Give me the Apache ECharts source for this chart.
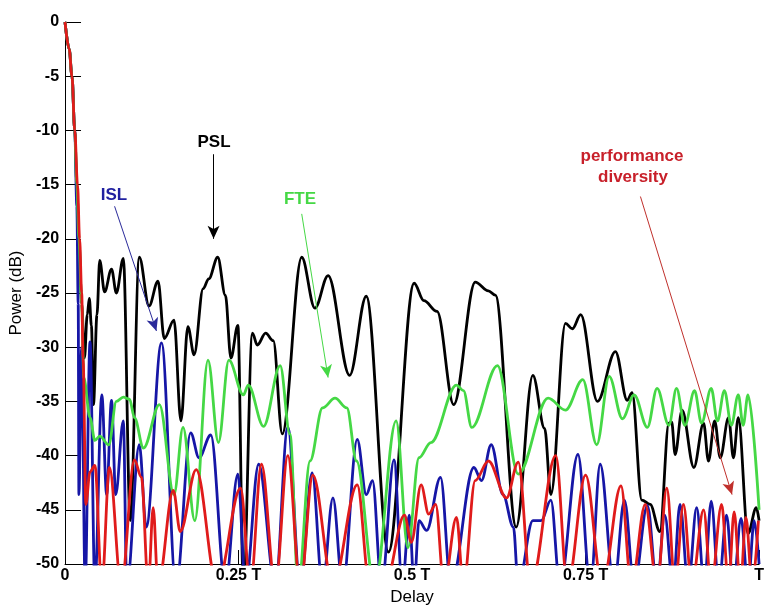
<!DOCTYPE html>
<html>
<head>
<meta charset="utf-8">
<script src="https://cdn.jsdelivr.net/npm/echarts@6/dist/echarts.min.js"></script>
<style>
  html, body { margin: 0; padding: 0; background: #fff; }
  #PowerDelayChart { width: 767px; height: 611px; }
</style>
</head>
<body>
<div id="PowerDelayChart"></div>
<script>
// delay in units of T, power in dB
const xTicks = [0, 0.25, 0.5, 0.75, 1];
const xTickLabels = ['0', '0.25 T', '0.5 T', '0.75 T', 'T'];

const pslData = [
  [0, 0], [0.006, -2.5], [0.010, -5], [0.014, -10], [0.017, -15], [0.020, -20], [0.024, -26], [0.028, -31],
  [0.032, -27], [0.035, -25.5], [0.038, -28], [0.041, -35.3], [0.046, -27], [0.050, -22], [0.057, -24.9],
  [0.067, -22.8], [0.074, -25], [0.084, -21.8], [0.094, -46], [0.107, -21.7], [0.121, -26.2], [0.134, -23.9],
  [0.143, -29.2], [0.157, -27.5], [0.167, -36.8], [0.177, -28.1], [0.186, -30.7], [0.199, -24.6], [0.207, -23.7],
  [0.220, -21.7], [0.231, -25.2], [0.239, -31], [0.249, -28], [0.257, -52], [0.270, -28.7], [0.277, -29.8],
  [0.289, -28.7], [0.300, -29.4], [0.313, -38], [0.341, -21.7], [0.360, -26.4], [0.379, -23.4], [0.410, -32.6],
  [0.434, -25.3], [0.466, -48.9], [0.503, -24.1], [0.517, -25.7], [0.536, -26.7], [0.560, -35.3], [0.591, -24],
  [0.610, -24.8], [0.620, -25.2], [0.650, -46.6], [0.674, -32.6], [0.691, -37.5], [0.700, -43.6], [0.721, -27.8],
  [0.731, -28.3], [0.743, -27], [0.767, -35], [0.793, -30.4], [0.810, -34.9], [0.817, -34.2], [0.831, -44.1],
  [0.843, -44.5], [0.857, -47], [0.870, -37], [0.874, -36.9], [0.879, -39.9], [0.889, -35.8], [0.906, -41.1],
  [0.920, -37], [0.927, -40.5], [0.936, -36.8], [0.944, -40.2], [0.956, -36.5], [0.963, -40.2], [0.970, -36.5],
  [0.984, -47.2], [0.996, -44.8], [1, -46]
];

const islData = [
  [0, 0], [0.006, -2.5], [0.010, -5], [0.014, -10], [0.017, -17], [0.019, -26], [0.020, -43.6], [0.024, -30],
  [0.029, -52], [0.036, -29.5], [0.043, -52], [0.053, -34.4], [0.060, -43.6], [0.067, -34.9], [0.073, -43.6],
  [0.084, -36.8], [0.089, -52], [0.107, -39], [0.117, -46.6], [0.139, -29.6], [0.160, -52], [0.181, -37.9],
  [0.193, -40.2], [0.210, -38.1], [0.231, -52], [0.249, -41.7], [0.260, -52], [0.279, -40.8], [0.303, -52],
  [0.321, -37.4], [0.339, -52], [0.356, -41.6], [0.371, -52], [0.386, -43.9], [0.400, -52], [0.421, -38.5],
  [0.434, -43.6], [0.443, -42.3], [0.456, -52], [0.474, -40.4], [0.486, -52], [0.496, -45.5], [0.503, -52],
  [0.510, -46], [0.521, -46.9], [0.541, -42], [0.556, -52], [0.589, -41.1], [0.600, -42.3], [0.614, -39],
  [0.631, -43.6], [0.646, -46.6], [0.653, -52], [0.674, -46], [0.686, -46], [0.700, -44.1], [0.713, -52],
  [0.739, -39.9], [0.757, -52], [0.771, -40.8], [0.791, -52], [0.806, -44.1], [0.820, -52], [0.839, -44.6],
  [0.853, -52], [0.864, -45.5], [0.876, -52], [0.886, -44.5], [0.898, -52], [0.910, -44.8], [0.921, -52],
  [0.931, -44.2], [0.942, -52], [0.953, -45.5], [0.963, -52], [0.974, -45.8], [0.984, -52], [0.993, -46], [1, -50]
];

const fteData = [
  [0, 0], [0.006, -2.5], [0.010, -5], [0.014, -10], [0.017, -15], [0.020, -20], [0.024, -26], [0.027, -32.8],
  [0.036, -36.5], [0.043, -38.6], [0.050, -38.2], [0.063, -39], [0.074, -35], [0.084, -34.6], [0.093, -34.8],
  [0.100, -36.5], [0.113, -39.3], [0.136, -35.3], [0.157, -43.6], [0.170, -37.4], [0.187, -46], [0.206, -31.2],
  [0.221, -38.8], [0.236, -31.2], [0.257, -34.4], [0.264, -33.5], [0.286, -37.3], [0.310, -31.7], [0.324, -38],
  [0.336, -52], [0.353, -40.5], [0.371, -35.6], [0.389, -34.7], [0.406, -35.6], [0.420, -40.5], [0.446, -52],
  [0.477, -36.8], [0.494, -48.5], [0.510, -40.2], [0.527, -38.8], [0.564, -33.5], [0.574, -34], [0.586, -37.4],
  [0.623, -31.7], [0.653, -41.7], [0.696, -34.7], [0.721, -35.8], [0.746, -33], [0.766, -39], [0.784, -32.7],
  [0.803, -36.6], [0.820, -34.4], [0.839, -37.4], [0.853, -33.8], [0.870, -37.2], [0.881, -33.8], [0.893, -37.2],
  [0.907, -34], [0.917, -37], [0.931, -33.8], [0.940, -36.8], [0.950, -34], [0.960, -37.2], [0.970, -34.4],
  [0.977, -37.2], [0.984, -34.4], [1, -45]
];

const pdData = [
  [0, 0], [0.006, -2.5], [0.010, -5], [0.014, -10], [0.018, -15], [0.021, -20], [0.024, -25], [0.026, -31],
  [0.030, -44.5], [0.036, -41.5], [0.043, -40.9], [0.053, -52], [0.064, -41.1], [0.081, -52], [0.100, -40.4],
  [0.110, -42], [0.120, -52], [0.127, -44.8], [0.134, -52], [0.156, -43.2], [0.166, -47], [0.189, -41.3],
  [0.219, -52], [0.253, -43], [0.267, -52], [0.283, -40.8], [0.303, -52], [0.321, -40], [0.339, -52],
  [0.357, -41.8], [0.386, -52], [0.421, -42.7], [0.439, -52], [0.461, -52], [0.489, -45.5], [0.499, -48],
  [0.513, -42.7], [0.524, -45.4], [0.534, -44.5], [0.546, -52], [0.564, -45.7], [0.574, -52], [0.591, -42.3],
  [0.610, -40.5], [0.636, -43.9], [0.653, -40.6], [0.671, -52], [0.707, -40], [0.724, -52], [0.750, -41.8],
  [0.774, -52], [0.801, -42.8], [0.816, -52], [0.836, -44.5], [0.853, -52], [0.867, -43], [0.879, -52],
  [0.891, -44.5], [0.903, -52], [0.920, -45], [0.931, -52], [0.946, -44.5], [0.956, -52], [0.964, -45.2],
  [0.973, -52], [0.981, -45.7], [0.990, -52], [0.999, -46]
];

let chartDom = document.getElementById('PowerDelayChart');
let myChart = echarts.init(chartDom, null, { renderer: 'canvas' });
let option;

const FONT = '"Liberation Sans", Arial, sans-serif';

function arrow(color, from, to) {
  return {
    silent: true,
    animation: false,
    symbol: ['none', 'arrow'],
    symbolSize: [9, 13],
    label: { show: false },
    lineStyle: { color: color, width: 1, type: 'solid' },
    emphasis: { disabled: true },
    data: [[{ coord: from }, { coord: to }]],
  };
}

function curve(name, data, color, markLine) {
  return {
    name: name,
    type: 'line',
    data: data,
    showSymbol: false,
    smooth: 0.35,
    smoothMonotone: 'x',
    clip: true,
    lineStyle: { color: color, width: 2.8 },
    itemStyle: { color: color },
    emphasis: { disabled: true },
    markLine: markLine,
  };
}

option = {
  animation: false,
  backgroundColor: '#fff',
  grid: { left: 63, right: 4, top: 22, bottom: 44 },
  xAxis: {
    type: 'value',
    min: 0,
    max: 1,
    interval: 0.25,
    name: 'Delay',
    nameLocation: 'middle',
    nameGap: 25,
    nameTextStyle: { color: '#000', fontFamily: FONT, fontSize: 17 },
    axisLine: { show: true, onZero: false, lineStyle: { color: '#000', width: 1 } },
    axisTick: { show: true, inside: true, length: 14, lineStyle: { color: '#000' } },
    splitLine: { show: false },
    axisLabel: {
      color: '#000',
      fontFamily: FONT,
      fontSize: 16,
      fontWeight: 'bold',
      margin: 4,
      formatter: (v) => xTickLabels[xTicks.indexOf(v)] ?? '',
    },
  },
  yAxis: {
    type: 'value',
    min: -50,
    max: 0,
    interval: 5,
    name: 'Power (dB)',
    nameLocation: 'middle',
    nameGap: 37,
    nameTextStyle: { color: '#000', fontFamily: FONT, fontSize: 17 },
    axisLine: { show: true, onZero: false, lineStyle: { color: '#000', width: 1 } },
    axisTick: { show: true, inside: true, length: 16, lineStyle: { color: '#000' } },
    splitLine: { show: false },
    axisLabel: {
      color: '#000',
      fontFamily: FONT,
      fontSize: 16,
      fontWeight: 'bold',
      margin: 6,
    },
  },
  series: [
    curve('PSL', pslData, '#000000', arrow('#000000', [0.214, -12.2], [0.214, -20.0])),
    curve('ISL', islData, '#1616a6', arrow('#2a2a9a', [0.0714, -17.0], [0.1317, -28.5])),
    curve('FTE', fteData, '#45d845', arrow('#45d845', [0.341, -17.7], [0.379, -32.8])),
    curve('performance diversity', pdData, '#e01b1b', arrow('#c0302c', [0.829, -16.1], [0.961, -43.6])),
  ],
  graphic: [
    { type: 'text', x: 214, y: 142, style: { text: 'PSL', fill: '#000', font: 'bold 17px ' + FONT, align: 'center', verticalAlign: 'middle' } },
    { type: 'text', x: 114, y: 195, style: { text: 'ISL', fill: '#2020a0', font: 'bold 17px ' + FONT, align: 'center', verticalAlign: 'middle' } },
    { type: 'text', x: 300, y: 199, style: { text: 'FTE', fill: '#45d845', font: 'bold 17px ' + FONT, align: 'center', verticalAlign: 'middle' } },
    { type: 'text', x: 632, y: 156, style: { text: 'performance', fill: '#c8202a', font: 'bold 17px ' + FONT, align: 'center', verticalAlign: 'middle' } },
    { type: 'text', x: 633, y: 177, style: { text: 'diversity', fill: '#c8202a', font: 'bold 17px ' + FONT, align: 'center', verticalAlign: 'middle' } },
  ],
};

option && myChart.setOption(option);
</script>
</body>
</html>
